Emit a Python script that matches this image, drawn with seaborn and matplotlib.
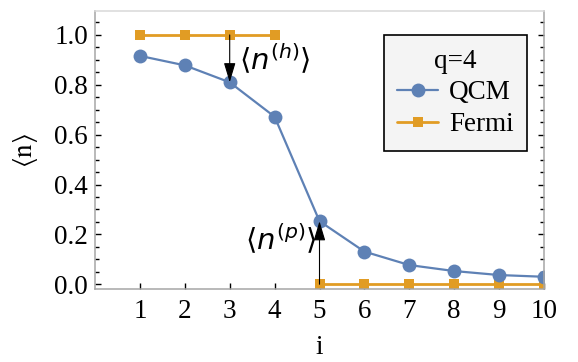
import numpy as np
import pandas as pd
import matplotlib
matplotlib.use("Agg")
import matplotlib.pyplot as plt
from matplotlib.lines import Line2D
from matplotlib.ticker import MultipleLocator
import seaborn as sns

# site index and occupations
sites = [1, 2, 3, 4, 5, 6, 7, 8, 9, 10]
qcm_occupation = [0.916, 0.878, 0.810, 0.672, 0.253, 0.131, 0.077, 0.053, 0.037, 0.030]
fermi_occupation = [1, 1, 1, 1, 0, 0, 0, 0, 0, 0]
fermi_segment = ["hole", "hole", "hole", "hole", "particle", "particle",
                 "particle", "particle", "particle", "particle"]
x_ticks = [1, 2, 3, 4, 5, 6, 7, 8, 9, 10]
y_ticks = [0.0, 0.2, 0.4, 0.6, 0.8, 1.0]
legend_title = "q=4"

QCM_COLOR = "#5E81B5"
FERMI_COLOR = "#E19C24"

sns.set_theme(style="ticks")
plt.rcParams["font.family"] = ["Liberation Serif", "DejaVu Serif"]
plt.rcParams["mathtext.fontset"] = "stix"
plt.rcParams["text.color"] = "black"
plt.rcParams["axes.labelcolor"] = "black"
plt.rcParams["xtick.color"] = "black"
plt.rcParams["ytick.color"] = "black"

qcm_df = pd.DataFrame({"i": sites, "n": qcm_occupation})
fermi_df = pd.DataFrame({"i": sites, "n": fermi_occupation, "seg": fermi_segment})

fig = plt.figure(figsize=(5.78, 3.62), dpi=100)
ax = fig.add_axes([95 / 578, 1 - 289 / 362, (544 - 95) / 578, (289 - 11) / 362])

sns.lineplot(data=fermi_df, x="i", y="n", units="seg", estimator=None,
             color=FERMI_COLOR, lw=2, marker="s", markersize=6.5,
             markeredgewidth=0, ax=ax, legend=False)
sns.lineplot(data=qcm_df, x="i", y="n", color=QCM_COLOR, lw=1.6,
             marker="o", markersize=10, markeredgewidth=0, ax=ax, legend=False)

ax.set_xlim(0, 10)
ax.set_ylim(-0.019, 1.096)
ax.set_xticks(x_ticks)
ax.set_xticklabels([str(t) for t in x_ticks])
ax.set_yticks(y_ticks)
ax.set_yticklabels([f"{t:.1f}" for t in y_ticks])
ax.yaxis.set_minor_locator(MultipleLocator(0.05))

ax.tick_params(axis="both", which="major", direction="in", length=4, width=1,
               color="black", labelcolor="black", labelsize=19.5, pad=5)
ax.tick_params(axis="y", which="minor", direction="in", length=3, width=1,
               color="black", right=True)
ax.tick_params(axis="y", which="major", right=True, labelright=False)
ax.tick_params(axis="x", which="major", top=False, pad=7)

for side in ["left", "bottom", "right"]:
    ax.spines[side].set_color("#a6a6a6")
    ax.spines[side].set_linewidth(1.1)
ax.spines["top"].set_visible(True)
ax.spines["top"].set_color("#d9d9d9")
ax.spines["top"].set_linewidth(1.1)

ax.set_xlabel("i", fontsize=19.5, labelpad=8)
ax.set_ylabel(r"$\langle\mathrm{n}\rangle$", fontsize=19.5, labelpad=10)

# arrows marking hole and particle occupations
arrow_style = dict(arrowstyle="-|>,head_length=0.6,head_width=0.18",
                   color="black", lw=0.8, mutation_scale=20, shrinkA=0, shrinkB=0)
ax.annotate("", xy=(3, qcm_occupation[2]), xytext=(3, fermi_occupation[2]),
            arrowprops=arrow_style)
ax.annotate("", xy=(5, qcm_occupation[4]), xytext=(5, fermi_occupation[4]),
            arrowprops=arrow_style)
ax.text(4.0, 0.905, r"$\langle n^{(h)}\rangle$", fontsize=21,
        math_fontfamily="dejavusans", ha="center", va="center")
ax.text(4.13, 0.18, r"$\langle n^{(p)}\rangle$", fontsize=21,
        math_fontfamily="dejavusans", ha="center", va="center")

handles = [
    Line2D([0], [0], color=QCM_COLOR, lw=1.6, marker="o", markersize=10,
           markeredgewidth=0, label="QCM"),
    Line2D([0], [0], color=FERMI_COLOR, lw=2, marker="s", markersize=6.5,
           markeredgewidth=0, label="Fermi"),
]
leg = ax.legend(handles=handles, title=legend_title, loc="upper right",
                bbox_to_anchor=(527 / 578, 1 - 35 / 362), bbox_transform=fig.transFigure,
                fontsize=19.5, title_fontsize=19.5, frameon=True, fancybox=False,
                handlelength=1.5, handletextpad=0.4, borderpad=0.5,
                labelspacing=0.25, borderaxespad=0)
leg.get_frame().set_facecolor("#f4f4f4")
leg.get_frame().set_edgecolor("black")
leg.get_frame().set_linewidth(1.2)
leg.get_frame().set_alpha(1)

fig.savefig("out.png", dpi=100)
